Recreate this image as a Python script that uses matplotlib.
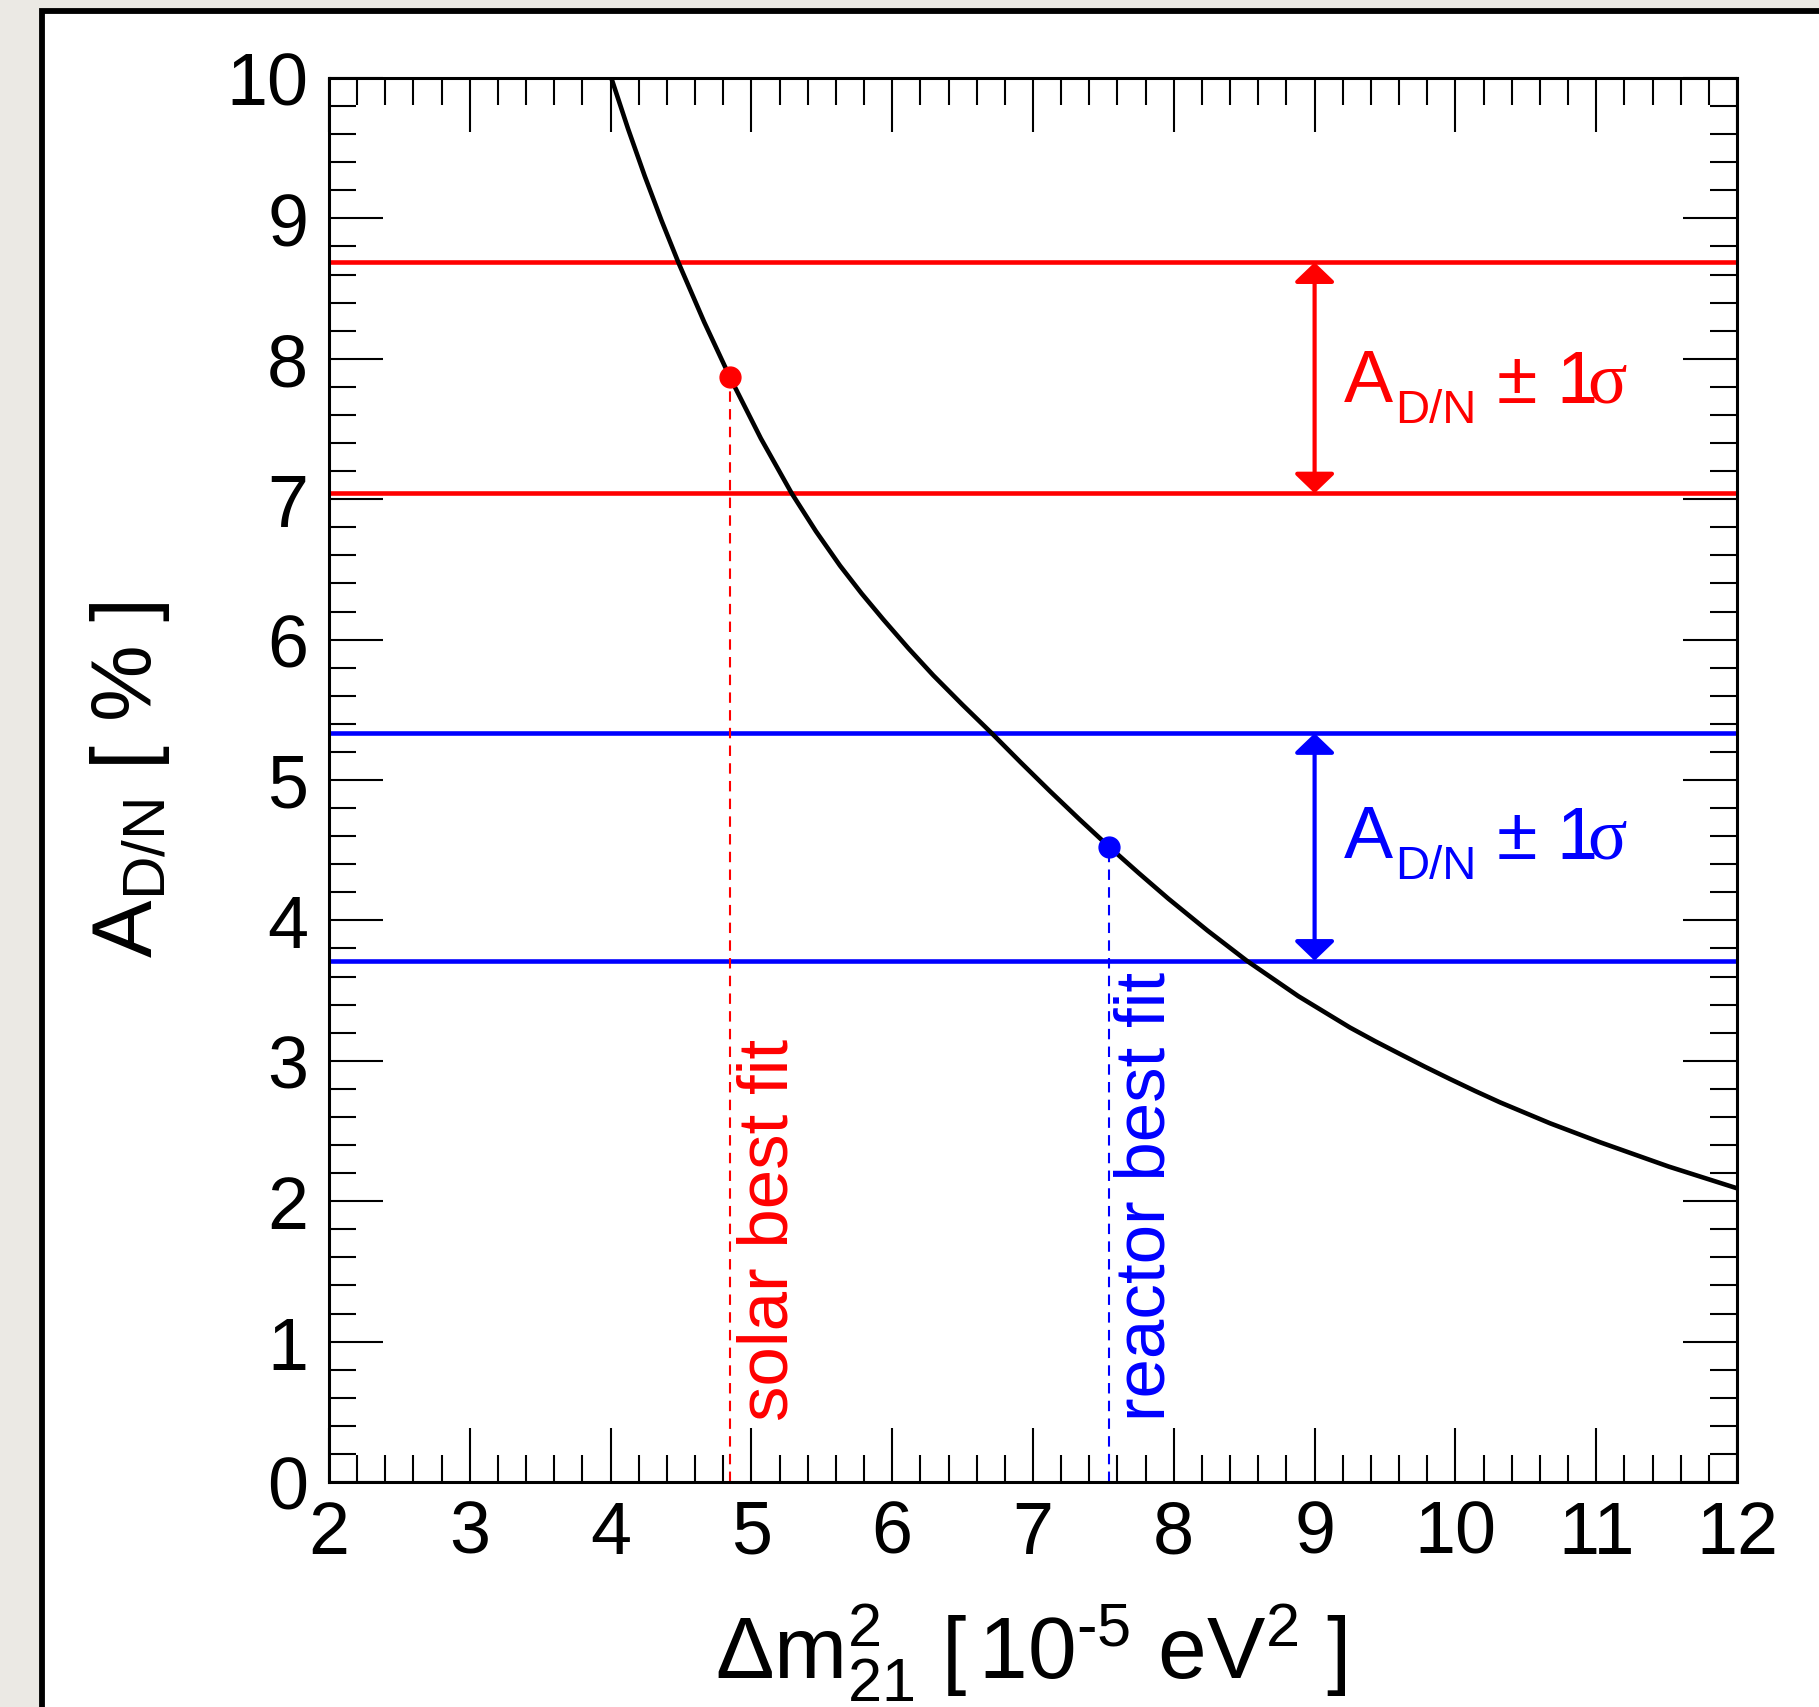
import matplotlib
matplotlib.use('Agg')
import matplotlib.pyplot as plt
from matplotlib.patches import Rectangle
from matplotlib.ticker import MultipleLocator

plt.rcParams['font.family'] = ['Liberation Sans', 'DejaVu Sans']
plt.rcParams['mathtext.fontset'] = 'custom'
plt.rcParams['mathtext.rm'] = 'Liberation Sans'
plt.rcParams['mathtext.it'] = 'Liberation Sans'
plt.rcParams['mathtext.sf'] = 'Liberation Sans'
plt.rcParams['mathtext.bf'] = 'Liberation Serif'   # used only for the serif sigma

# ---------------- data ----------------
dm2 = [4.005, 4.124, 4.243, 4.362, 4.481, 4.665, 4.848, 5.067, 5.286, 5.458,
       5.629, 5.783, 5.937, 6.115, 6.292, 6.500, 6.707, 6.914, 7.121, 7.331,
       7.540, 7.751, 7.961, 8.240, 8.518, 8.885, 9.251, 9.429, 9.607, 9.785,
       9.962, 10.140, 10.317, 10.672, 11.027, 11.514, 12.0]
adn = [10.0, 9.638, 9.300, 8.984, 8.687, 8.261, 7.868, 7.433, 7.042, 6.772,
       6.527, 6.328, 6.143, 5.938, 5.745, 5.535, 5.333, 5.124, 4.920, 4.719,
       4.525, 4.337, 4.155, 3.927, 3.713, 3.460, 3.237, 3.140, 3.048, 2.957,
       2.870, 2.785, 2.704, 2.555, 2.420, 2.247, 2.092]

solar_fit = (4.848, 7.868)
reactor_fit = (7.540, 4.525)
solar_band = (7.042, 8.687)
reactor_band = (3.713, 5.333)
arrow_x = 9.0

xticks = [2, 3, 4, 5, 6, 7, 8, 9, 10, 11, 12]
yticks = [0, 1, 2, 3, 4, 5, 6, 7, 8, 9, 10]

RED = '#ff0000'
BLUE = '#0000ff'

W, H = 1819, 1708
fig = plt.figure(figsize=(W / 100, H / 100), dpi=100, facecolor='#ebe9e4')
fig.patches.append(Rectangle((42 / W, -0.1), 1.2, 1 - 12 / H + 0.1,
                             transform=fig.transFigure, facecolor='white',
                             edgecolor='black', lw=4.2, zorder=-10))

ax = fig.add_axes([329 / W, 1 - 1483 / H, (1737 - 329) / W, (1483 - 79) / H])
ax.set_zorder(5)
ax.set_facecolor('white')
ax.set_xlim(2, 12)
ax.set_ylim(0, 10)
ax.set_xticks(xticks)
ax.set_yticks(yticks)
ax.set_xticklabels([str(v) for v in xticks])
ax.set_yticklabels([str(v) for v in yticks])
ax.xaxis.set_minor_locator(MultipleLocator(0.2))
ax.yaxis.set_minor_locator(MultipleLocator(0.2))
ax.tick_params(which='both', direction='in', top=True, right=True, width=1.5, colors='black')
ax.tick_params(which='major', length=39, labelsize=53)
ax.tick_params(which='minor', length=19.5)
ax.tick_params(axis='x', which='major', pad=12)
ax.tick_params(axis='y', which='major', pad=15)
for s in ax.spines.values():
    s.set_linewidth(2.2)

# bands
for v in solar_band:
    ax.axhline(v, color=RED, lw=3.3, zorder=2)
for v in reactor_band:
    ax.axhline(v, color=BLUE, lw=3.3, zorder=2)

# curve
ax.plot(dm2, adn, color='black', lw=3.3, zorder=3, solid_joinstyle='round')

# best-fit markers and dashed lines
ax.vlines(solar_fit[0], 0, solar_fit[1], colors=RED, lw=1.5, linestyles=(0, (5, 3.5)), zorder=2)
ax.vlines(reactor_fit[0], 0, reactor_fit[1], colors=BLUE, lw=1.5, linestyles=(0, (5, 3.5)), zorder=2)
ax.plot(*solar_fit, 'o', color=RED, ms=15, zorder=4)
ax.plot(*reactor_fit, 'o', color=BLUE, ms=15, zorder=4)

# arrows
for band, col in ((solar_band, RED), (reactor_band, BLUE)):
    ax.annotate('', xy=(arrow_x, band[1]), xytext=(arrow_x, band[0]),
                arrowprops=dict(arrowstyle='<|-|>,head_length=1.2,head_width=1.25',
                                mutation_scale=10, color=col, lw=3.0,
                                shrinkA=0, shrinkB=0), zorder=4)

# band labels
for base_y, col in ((7.699, RED), (4.45, BLUE)):
    ax.text(9.209, base_y, 'A', color=col, fontsize=53, ha='left', va='baseline')
    ax.text(9.571, base_y - 0.149, 'D/N', color=col, fontsize=34, ha='left', va='baseline')
    ax.text(10.29, base_y, '\u00b1 1$\\!\\mathbf{\u03c3}$', color=col, fontsize=53,
            ha='left', va='baseline')

# best fit labels
ax.text(5.253, 0.44, 'solar best fit', color=RED, fontsize=51, rotation=90,
        rotation_mode='anchor', ha='left', va='baseline')
ax.text(7.937, 0.44, 'reactor best fit', color=BLUE, fontsize=51, rotation=90,
        rotation_mode='anchor', ha='left', va='baseline')

# axis titles
fig.text(152 / W, 1 - 780 / H, r'A$_{\mathrm{D/N}}$ [ % ]', fontsize=62, rotation=90,
         rotation_mode='anchor', ha='center', va='baseline')
fig.text(1031 / W, 1 - 1679 / H,
         r'$\Delta\mathrm{m}^{2}_{21}$ [$\,$10$^{\text{-}5}$ eV$^{2}$ ]',
         fontsize=63, ha='center', va='baseline')

fig.savefig('out.png', dpi=100, facecolor=fig.get_facecolor())
